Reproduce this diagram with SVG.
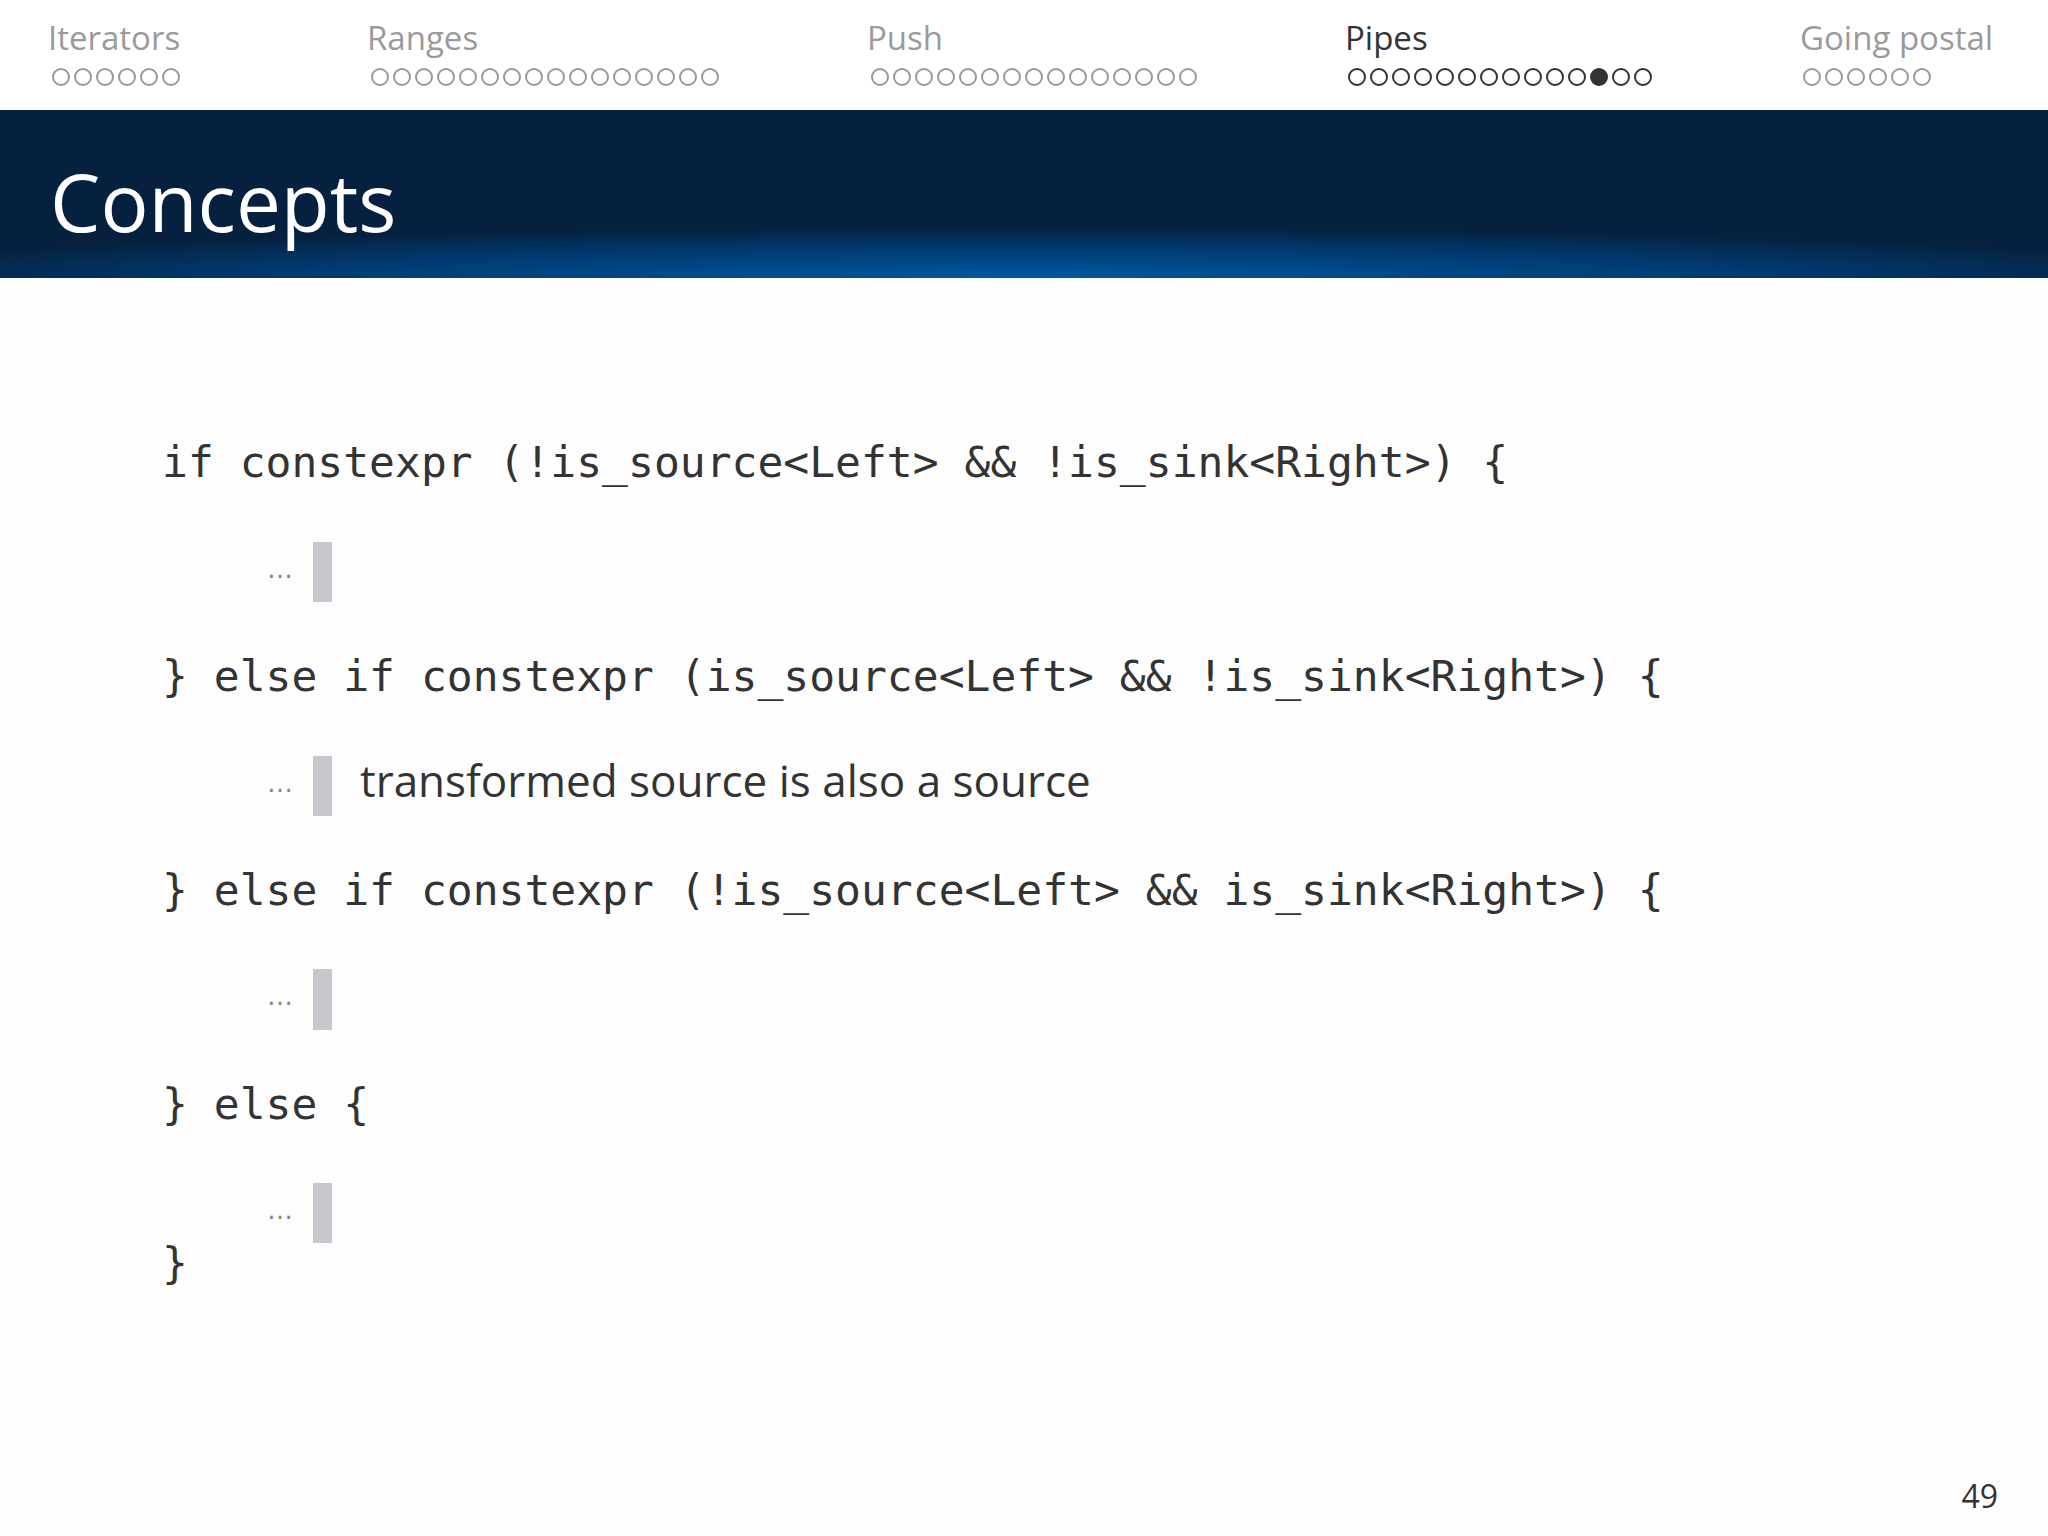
<svg xmlns="http://www.w3.org/2000/svg" width="2048" height="1536" viewBox="0 0 2048 1536">
<defs>
<radialGradient id="hg" cx="0.5" cy="1" r="0.6" fx="0.5" fy="1" gradientTransform="translate(0.5 1) scale(1 0.5) translate(-0.5 -1)">
<stop offset="0" stop-color="#0058a0"/><stop offset="0.6" stop-color="#003a70"/><stop offset="1" stop-color="#06213f"/>
</radialGradient>
<style>
.nav{font-family:"Open Sans","Noto Sans",sans-serif;font-size:33px;fill:#9a9a9a}
.cur{fill:#333}
.code{font-family:"DejaVu Sans Mono",monospace;font-size:43px;fill:#333}
.ell{font-family:"DejaVu Sans",sans-serif;font-size:26px;fill:#888}
.bar{fill:#c8c6cc}
.txt{font-family:"Open Sans","Noto Sans",sans-serif;font-size:44px;fill:#333}
.d{fill:none;stroke:#999;stroke-width:2}
.dc{fill:none;stroke:#333;stroke-width:2}
</style>
</defs>
<rect width="2048" height="1536" fill="#fdfdfd"/>
<rect width="2048" height="110" fill="#ffffff"/>
<g id="nav">
<text class="nav" x="48" y="50">Iterators</text>
<text class="nav" x="367" y="50">Ranges</text>
<text class="nav" x="867" y="50">Push</text>
<text class="nav cur" x="1345" y="50">Pipes</text>
<text class="nav" x="1800" y="50">Going postal</text>
<g class="d">
<circle cx="61" cy="77" r="8"/><circle cx="83" cy="77" r="8"/><circle cx="105" cy="77" r="8"/><circle cx="127" cy="77" r="8"/><circle cx="149" cy="77" r="8"/><circle cx="171" cy="77" r="8"/>
</g>
<g class="d" transform="translate(380 77)">
<circle cx="0" r="8"/><circle cx="22" r="8"/><circle cx="44" r="8"/><circle cx="66" r="8"/><circle cx="88" r="8"/><circle cx="110" r="8"/><circle cx="132" r="8"/><circle cx="154" r="8"/><circle cx="176" r="8"/><circle cx="198" r="8"/><circle cx="220" r="8"/><circle cx="242" r="8"/><circle cx="264" r="8"/><circle cx="286" r="8"/><circle cx="308" r="8"/><circle cx="330" r="8"/>
</g>
<g class="d" transform="translate(880 77)">
<circle cx="0" r="8"/><circle cx="22" r="8"/><circle cx="44" r="8"/><circle cx="66" r="8"/><circle cx="88" r="8"/><circle cx="110" r="8"/><circle cx="132" r="8"/><circle cx="154" r="8"/><circle cx="176" r="8"/><circle cx="198" r="8"/><circle cx="220" r="8"/><circle cx="242" r="8"/><circle cx="264" r="8"/><circle cx="286" r="8"/><circle cx="308" r="8"/>
</g>
<g class="dc" transform="translate(1357 77)">
<circle cx="0" r="8"/><circle cx="22" r="8"/><circle cx="44" r="8"/><circle cx="66" r="8"/><circle cx="88" r="8"/><circle cx="110" r="8"/><circle cx="132" r="8"/><circle cx="154" r="8"/><circle cx="176" r="8"/><circle cx="198" r="8"/><circle cx="220" r="8"/><circle cx="242" r="8" fill="#333"/><circle cx="264" r="8"/><circle cx="286" r="8"/>
</g>
<g class="d" transform="translate(1812 77)">
<circle cx="0" r="8"/><circle cx="22" r="8"/><circle cx="44" r="8"/><circle cx="66" r="8"/><circle cx="88" r="8"/><circle cx="110" r="8"/>
</g>
</g>
<g id="header">
<rect y="110" width="2048" height="168" fill="url(#hg)"/>
<text x="50" y="232" font-family="'Open Sans','Noto Sans',sans-serif" font-size="80" fill="#ffffff">Concepts</text>
</g>
<g id="code">
<text class="code" x="162" y="477" xml:space="preserve">if constexpr (!is_source&lt;Left&gt; &amp;&amp; !is_sink&lt;Right&gt;) {</text>
<text class="code" x="162" y="691" xml:space="preserve">} else if constexpr (is_source&lt;Left&gt; &amp;&amp; !is_sink&lt;Right&gt;) {</text>
<text class="code" x="162" y="905" xml:space="preserve">} else if constexpr (!is_source&lt;Left&gt; &amp;&amp; is_sink&lt;Right&gt;) {</text>
<text class="code" x="162" y="1119" xml:space="preserve">} else {</text>
<text class="code" x="162" y="1278">}</text>
</g>
<g id="blocks">
<text class="ell" x="267" y="578">…</text><rect class="bar" x="313" y="542" width="19" height="60"/>
<text class="ell" x="267" y="792">…</text><rect class="bar" x="313" y="756" width="19" height="60"/>
<text class="txt" x="360" y="797">transformed source is also a source</text>
<text class="ell" x="267" y="1005">…</text><rect class="bar" x="313" y="969" width="19" height="61"/>
<text class="ell" x="267" y="1219">…</text><rect class="bar" x="313" y="1183" width="19" height="60"/>
</g>
<text x="1998" y="1508" text-anchor="end" font-family="'Open Sans','Noto Sans',sans-serif" font-size="32" fill="#333">49</text>
</svg>
